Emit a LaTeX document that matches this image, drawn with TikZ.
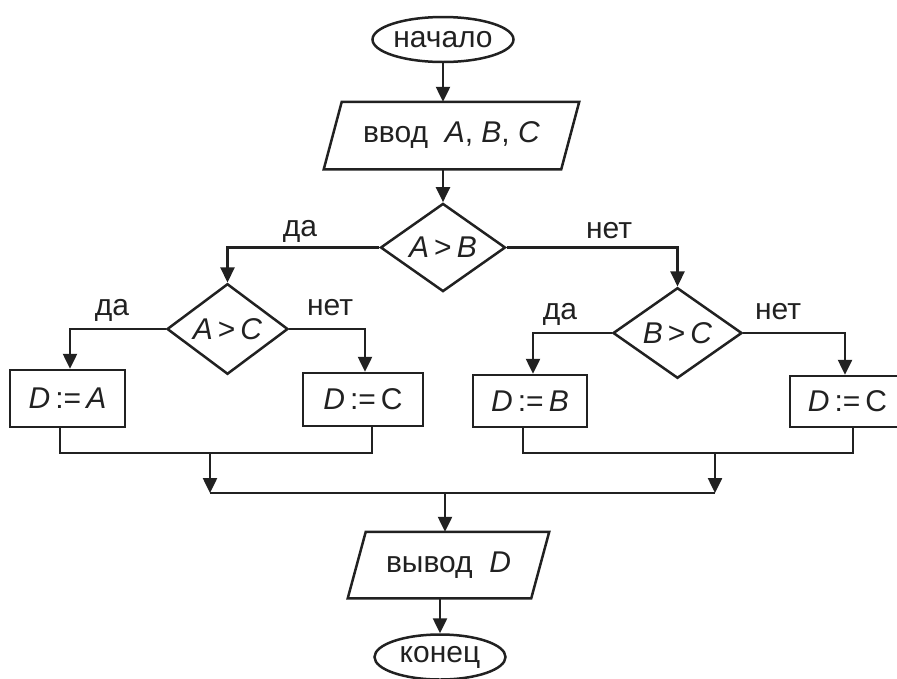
\documentclass[tikz,border=0pt]{standalone}
\usepackage{fontspec}
\setmainfont{Liberation Sans}
\usetikzlibrary{shapes.geometric,arrows.meta,calc}
\definecolor{ink}{gray}{0.13}
\begin{document}
\begin{tikzpicture}[x=1pt,y=-1pt, line width=2.5pt, draw=ink, text=ink,
  every node/.style={font=\fontsize{30}{35}\selectfont, inner sep=0pt, text=ink},
  term/.style={ellipse, draw=ink, minimum width=141pt, minimum height=45pt},
  proc/.style={rectangle, draw=ink},
  cond/.style={diamond, draw=ink},
  io/.style={rectangle},
  lbl/.style={anchor=base},
  arr/.style={-{Triangle[length=15pt,width=14pt]}}]
\useasboundingbox (0,0) rectangle (897,678);
\clip (0,0) rectangle (897,678);

% terminals and i/o
\node[term] (start) at (443,39.5) {начало};
\node[io, minimum width=235pt, minimum height=65pt] (inp) at (451.5,135.5) {ввод\ \ \textit{A}, \textit{B}, \textit{C}};
\draw ([xshift=-9pt]inp.south west) -- ([xshift=9pt]inp.north west) -- ([xshift=9pt]inp.north east) -- ([xshift=-9pt]inp.south east) -- cycle;

% decisions
\node[cond, minimum width=125pt, minimum height=79pt] (d1) at (443,247.5) {\textit{A}\,>\,\textit{B}};
\node[cond, minimum width=121pt, minimum height=78pt] (d2) at (227.5,329) {\textit{A}\,>\,\textit{C}};
\node[cond, minimum width=129pt, minimum height=80pt] (d3) at (677.5,333) {\textit{B}\,>\,\textit{C}};

% process boxes
\node[proc, minimum width=115pt, minimum height=57pt] (b1) at (67.5,398.5) {\textit{D}\,:=\,\textit{A}};
\node[proc, minimum width=120pt, minimum height=53pt] (b2) at (363,399.5) {\textit{D}\,:=\,C};
\node[proc, minimum width=114pt, minimum height=52pt] (b3) at (530,401) {\textit{D}\,:=\,\textit{B}};
\node[proc, minimum width=115pt, minimum height=51pt] (b4) at (847.5,401.5) {\textit{D}\,:=\,C};

% output and end
\node[io, minimum width=181pt, minimum height=64pt] (out) at (448.5,565) {вывод\ \ \textit{D}};
\draw ([xshift=-9pt]out.south west) -- ([xshift=9pt]out.north west) -- ([xshift=9pt]out.north east) -- ([xshift=-9pt]out.south east) -- cycle;
\node[term, minimum width=131pt, minimum height=45pt] (end) at (440,657) {конец};

% labels
\node[lbl] (l1) at (300,236) {да};
\node[lbl] (l2) at (609,238) {нет};
\node[lbl] (l3) at (112,315) {да};
\node[lbl] (l4) at (330,315) {нет};
\node[lbl] (l5) at (560,319) {да};
\node[lbl] (l6) at (778,319) {нет};

% connectors
\draw[arr] (start.south) -- (start.south |- inp.north);
\draw[arr] (d1.north |- inp.south) -- (d1.north);
\draw[arr] (d1.west) -| (d2.north);
\draw[arr] (d1.east) -| (d3.north);
\draw[arr] (d2.west) -| ([xshift=2.5pt]b1.north);
\draw[arr] (d2.east) -| ([xshift=2pt]b2.north);
\draw[arr] (d3.west) -| ([xshift=3pt]b3.north);
\draw[arr] (d3.east) -| ([xshift=-2.5pt]b4.north);

\coordinate (m1) at (210,453);
\coordinate (m2) at (715,453);
\coordinate (h1) at (210,493);
\coordinate (h2) at (715,493);
\coordinate (hm) at (445,493);
\draw ([xshift=-7.5pt]b1.south) |- (m1) -| ([xshift=9pt]b2.south);
\draw ([xshift=-7pt]b3.south) |- (m2) -| ([xshift=5.5pt]b4.south);
\draw[arr] (m1) -- (h1);
\draw[arr] (m2) -- (h2);
\draw (h1) -- (h2);
\draw[arr] (hm) -- (hm |- out.north);
\draw[arr] (end.north |- out.south) -- (end.north);
\end{tikzpicture}
\end{document}
